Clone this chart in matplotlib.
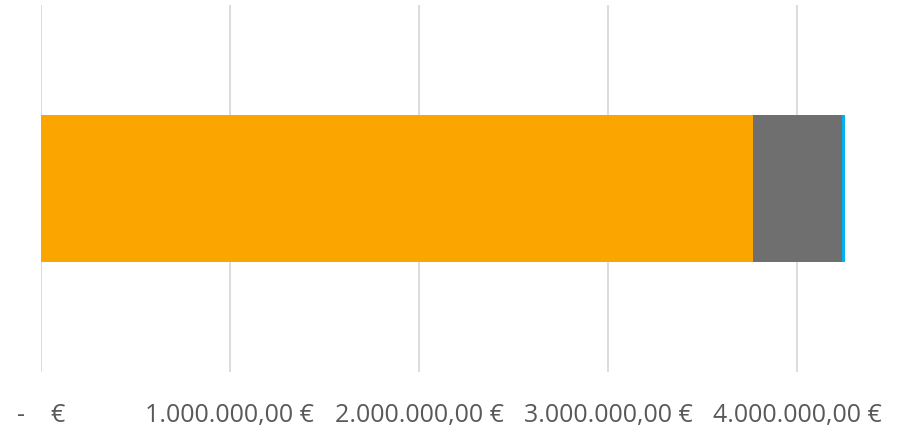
import matplotlib
matplotlib.use("Agg")
import matplotlib.pyplot as plt
from matplotlib.ticker import FixedLocator

categories = ["Total"]
series_names = ["Serie 1", "Serie 2", "Serie 3"]
series_values = [[3766000], [469000], [17500]]
series_colors = ["#FAA500", "#6F6F6F", "#00B0F0"]
tick_values = [0, 1000000, 2000000, 3000000, 4000000]
tick_labels = ["-    €", "1.000.000,00 €", "2.000.000,00 €", "3.000.000,00 €", "4.000.000,00 €"]

plt.rcParams['font.family'] = ['Open Sans', 'DejaVu Sans']
fig = plt.figure(figsize=(9, 4.32), dpi=100)
ax = fig.add_axes([40.7/900, 1-372/432, (892-40.7)/900, 367/432])

left = [0] * len(categories)
for name, vals, col in zip(series_names, series_values, series_colors):
    ax.barh(categories, vals, left=left, height=0.4, color=col, label=name, zorder=3)
    left = [l + v for l, v in zip(left, vals)]

ax.set_xlim(0, 4.5e6)
ax.set_ylim(-0.5, 0.5)
ax.xaxis.set_major_locator(FixedLocator(tick_values))
ax.set_xticklabels(tick_labels, fontsize=18, color="#595959")
ax.tick_params(axis='x', length=0, pad=22)
ax.set_yticks([])
ax.grid(axis='x', color="#D9D9D9", linewidth=1.3, zorder=0)
for s in ax.spines.values():
    s.set_visible(False)

fig.savefig("out.png", dpi=100)
